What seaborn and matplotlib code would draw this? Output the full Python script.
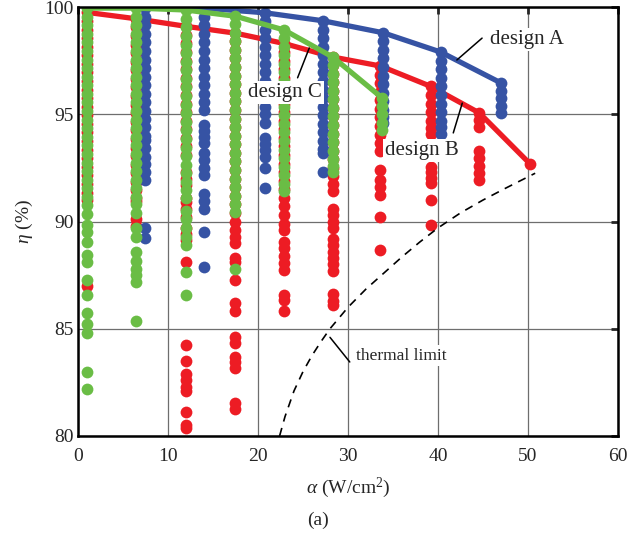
import matplotlib
matplotlib.use("Agg")
import matplotlib.pyplot as plt
import pandas as pd
import seaborn as sns

# design A (blue) - alpha positions and eta values of each column
a_x = [7.5, 14.0, 20.8, 27.2, 33.9, 40.3, 47.0]
a_cols = [
    [99.95, 99.55, 99.15, 98.75, 98.35, 97.95, 97.55, 97.15, 96.75, 96.35, 95.95, 95.55, 95.15,
     94.8, 94.4, 94.0, 93.8, 93.45, 93.0, 92.7, 92.3, 91.95, 89.7, 89.25],
    [99.95, 99.55, 99.15, 98.75, 98.35, 97.95, 97.55, 97.15, 96.75, 96.35, 95.95, 95.55, 95.2,
     94.5, 94.2, 93.95, 93.65, 93.2, 92.85, 92.5, 92.15, 91.3, 90.95, 90.6, 89.5, 87.9],
    [99.73, 99.35, 98.95, 98.55, 98.15, 97.75, 97.35, 96.95, 96.55, 96.15, 95.75, 95.35, 95.0,
     94.6, 93.9, 93.6, 93.35, 93.0, 92.5, 91.55],
    [99.36, 98.95, 98.55, 98.15, 97.75, 97.35, 96.95, 96.55, 96.15, 95.75, 95.35, 94.95, 94.55,
     94.15, 93.75, 93.4, 93.2, 92.3],
    [98.8, 98.4, 98.0, 97.6, 97.2, 96.8, 96.4, 96.0, 95.6, 95.2, 94.85, 94.6],
    [97.9, 97.5, 97.1, 96.7, 96.3, 95.9, 95.5, 95.1, 94.7, 94.4, 94.1],
    [96.46, 96.1, 95.75, 95.4, 95.05],
]

# design B (red)
b_x = [1.0, 6.5, 12.0, 17.5, 22.9, 28.3, 33.6, 39.2, 44.6, 50.2]
b_cols = [
    [99.75, 99.35, 98.95, 98.55, 98.15, 97.75, 97.35, 96.95, 96.55, 96.15, 95.75, 95.35, 94.95,
     94.55, 94.15, 93.75, 93.35, 92.95, 92.55, 92.15, 91.75, 91.35, 91.0, 87.0],
    [99.45, 99.05, 98.65, 98.25, 97.85, 97.45, 97.05, 96.65, 96.25, 95.85, 95.45, 95.05, 94.65,
     94.25, 93.85, 93.45, 93.05, 92.65, 92.25, 91.85, 91.45, 91.1, 90.95, 90.1, 89.8],
    [99.1, 98.7, 98.3, 97.9, 97.5, 97.1, 96.7, 96.3, 95.9, 95.5, 95.1, 94.7, 94.3, 93.9, 93.5,
     93.1, 92.3, 92.0, 91.7, 91.1, 90.9, 90.6, 90.2, 89.7, 89.4, 89.15, 88.1, 84.25, 83.5, 82.9,
     82.6, 82.3, 82.1, 81.1, 80.5, 80.35],
    [98.78, 98.4, 98.0, 97.6, 97.2, 96.8, 96.4, 96.0, 95.6, 95.2, 94.8, 94.4, 94.0, 93.6, 93.2,
     92.8, 92.4, 92.0, 91.6, 91.2, 90.8, 90.4, 90.0, 89.6, 89.3, 89.0, 88.3, 88.1, 87.27, 86.2,
     85.85, 84.6, 84.35, 83.7, 83.45, 83.15, 81.55, 81.25],
    [98.3, 97.9, 97.5, 97.1, 96.7, 96.3, 95.9, 95.5, 95.1, 94.7, 94.3, 93.9, 93.5, 93.1, 92.7,
     92.3, 91.9, 91.5, 91.1, 90.7, 90.3, 89.9, 89.6, 89.05, 88.75, 88.4, 88.05, 87.75, 86.55,
     86.35, 85.85],
    [97.67, 97.3, 96.9, 96.5, 96.1, 95.7, 95.3, 94.9, 94.5, 94.1, 93.7, 93.3, 92.9, 92.5, 92.1,
     91.75, 91.4, 90.6, 90.3, 90.0, 89.7, 89.2, 88.9, 88.6, 88.3, 88.0, 87.7, 86.6, 86.3, 86.1],
    [97.25, 96.85, 96.45, 96.05, 95.65, 95.25, 94.85, 94.45, 94.05, 93.65, 93.3, 92.4, 91.95,
     91.6, 91.25, 90.2, 88.65],
    [96.3, 95.9, 95.5, 95.1, 94.7, 94.35, 94.1, 92.55, 92.3, 92.05, 91.8, 91.0, 89.85],
    [95.06, 94.75, 94.4, 93.3, 92.95, 92.6, 92.25, 91.95],
    [92.7],
]

# design C (green)
c_x = [1.0, 6.5, 12.0, 17.5, 22.9, 28.3, 33.8]
c_cols = [
    [99.95, 99.55, 99.15, 98.75, 98.35, 97.95, 97.55, 97.15, 96.75, 96.35, 95.95, 95.55, 95.15,
     94.75, 94.35, 93.95, 93.55, 93.15, 92.75, 92.35, 91.95, 91.55, 91.15, 90.75, 90.35, 89.85,
     89.5, 89.05, 88.45, 88.1, 87.25, 86.55, 85.75, 85.2, 84.8, 83.0, 82.2],
    [99.95, 99.55, 99.15, 98.75, 98.35, 97.95, 97.55, 97.15, 96.75, 96.35, 95.95, 95.55, 95.15,
     94.75, 94.35, 93.95, 93.55, 93.15, 92.75, 92.35, 91.95, 91.55, 91.15, 90.8, 90.4, 89.7,
     89.3, 88.6, 88.15, 87.8, 87.5, 87.2, 85.35],
    [99.86, 99.45, 99.05, 98.65, 98.25, 97.85, 97.45, 97.05, 96.65, 96.25, 95.85, 95.45, 95.05,
     94.65, 94.25, 93.85, 93.45, 93.05, 92.65, 92.25, 91.85, 91.45, 91.1, 90.5, 90.1, 89.7,
     89.3, 88.9, 87.65, 86.55],
    [99.57, 99.2, 98.8, 98.4, 98.0, 97.6, 97.2, 96.8, 96.4, 96.0, 95.6, 95.2, 94.8, 94.4, 94.0,
     93.6, 93.2, 92.8, 92.4, 92.0, 91.6, 91.2, 90.8, 90.45, 87.8],
    [98.93, 98.55, 98.15, 97.75, 97.35, 96.95, 96.55, 96.15, 95.75, 95.35, 94.95, 94.55, 94.15,
     93.75, 93.35, 92.95, 92.55, 92.15, 91.75, 91.4],
    [97.67, 97.3, 96.9, 96.5, 96.1, 95.7, 95.3, 94.9, 94.5, 94.1, 93.7, 93.3, 92.9, 92.6, 92.3],
    [95.76, 95.4, 95.0, 94.6, 94.25],
]

# pareto fronts
a_front = [99.95, 99.95, 99.73, 99.36, 98.8, 97.9, 96.46]
b_front = [99.75, 99.45, 99.1, 98.78, 98.3, 97.67, 97.25, 96.3, 95.06, 92.7]
c_front = [99.95, 99.95, 99.86, 99.57, 98.93, 97.67, 95.76]

# thermal limit curve
thermal_x = [22.4, 23.0, 24.0, 25.0, 26.0, 27.0, 28.0, 30.0, 32.0, 34.0, 36.0, 38.0, 40.0,
             42.5, 45.0, 47.5, 50.8]
thermal_y = [80.0, 80.9, 82.1, 83.0, 83.75, 84.4, 85.0, 86.0, 86.85, 87.6, 88.35, 89.05, 89.7,
             90.4, 91.0, 91.55, 92.25]

BLUE = "#3653a4"
RED = "#ed1c24"
GREEN = "#6abd45"


def to_frame(xs, cols):
    rows = [(x, y) for x, col in zip(xs, cols) for y in col]
    return pd.DataFrame(rows, columns=["alpha", "eta"])


sns.set_style("white")
plt.rcParams["font.family"] = ["Liberation Serif", "DejaVu Serif"]
plt.rcParams["mathtext.fontset"] = "custom"
plt.rcParams["mathtext.rm"] = "Liberation Serif"
plt.rcParams["mathtext.it"] = "Liberation Serif:italic"

fig = plt.figure(figsize=(6.3, 5.48), dpi=100)
ax = fig.add_axes([0.1238, 0.2044, 0.8571, 0.7828])

ax.grid(True, color="#6e6e6e", linewidth=0.9)
ax.set_axisbelow(True)

dot = dict(s=72, linewidth=0, legend=False)
line = dict(linewidth=3.8, estimator=None, sort=False, legend=False)

sns.scatterplot(data=to_frame(b_x, b_cols), x="alpha", y="eta", color=RED, zorder=2, ax=ax, **dot)
sns.lineplot(x=b_x, y=b_front, color=RED, zorder=3, ax=ax, **line)
sns.scatterplot(data=to_frame(a_x, a_cols), x="alpha", y="eta", color=BLUE, zorder=4, ax=ax, **dot)
sns.lineplot(x=a_x, y=a_front, color=BLUE, zorder=5, ax=ax, **line)
sns.scatterplot(data=to_frame(c_x, c_cols), x="alpha", y="eta", color=GREEN, zorder=6, ax=ax, **dot)
sns.lineplot(x=c_x, y=c_front, color=GREEN, zorder=7, ax=ax, **line)

ax.plot(thermal_x, thermal_y, color="black", linewidth=1.2, linestyle=(0, (5, 4)), zorder=8)

# labels with leader lines
box = dict(facecolor="white", edgecolor="none", pad=1.5)
ax.text(45.8, 98.5, "design A", fontsize=15, va="center", ha="left", bbox=box, zorder=10)
ax.plot([44.9, 42.1], [98.55, 97.53], color="black", linewidth=1.1, zorder=10)
ax.text(38.2, 93.3, "design B", fontsize=15, va="center", ha="center", bbox=box, zorder=10)
ax.plot([41.7, 42.7], [94.13, 95.52], color="black", linewidth=1.1, zorder=10)
ax.text(23.0, 96.0, "design C", fontsize=15, va="center", ha="center", bbox=box, zorder=10)
ax.plot([24.4, 25.7], [96.7, 98.09], color="black", linewidth=1.1, zorder=10)
ax.text(35.9, 83.75, "thermal limit", fontsize=12.5, va="center", ha="center", bbox=box, zorder=10)
ax.plot([28.0, 30.2], [84.6, 83.45], color="black", linewidth=1.1, zorder=10)

ax.set_xlim(0, 60)
ax.set_ylim(80, 100)
ax.set_xticks([0, 10, 20, 30, 40, 50, 60])
ax.set_yticks([80, 85, 90, 95, 100])
ax.tick_params(direction="in", length=5, width=2, top=True, right=True, labelsize=14, pad=3)
ax.tick_params(axis="x", pad=9)
for spine in ax.spines.values():
    spine.set_linewidth(1.8)
    spine.set_color("black")
    spine.set_zorder(11)

ax.set_xlabel(r"$\alpha$ (W/cm$^2$)", fontsize=14, labelpad=7)
ax.set_ylabel(r"$\eta$ (%)", fontsize=14, labelpad=7)
fig.text(0.505, 0.051, "(a)", fontsize=14, ha="center", va="center")

fig.savefig("out.png", dpi=100)
